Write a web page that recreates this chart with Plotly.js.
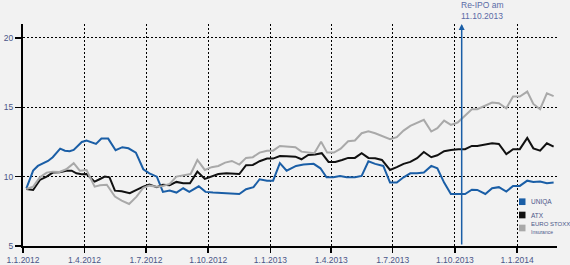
<!DOCTYPE html>
<html><head><meta charset="utf-8">
<script src="https://cdn.plot.ly/plotly-3.0.1.min.js"></script>
<style>html,body{margin:0;padding:0;background:#f2f2f2;}#chart{width:570px;height:265px;}</style>
</head><body><div id="chart"></div>
<script>
// day offsets from 1.1.2012 and values
const uniqaDays = [5,15,22,30,37,44,49,55,62,69,75,80,87,94,100,108,116,126,137,147,156,167,178,187,198,207,217,227,237,246,260,270,281,301,320,330,341,350,361,370,380,390,404,415,430,440,449,459,469,479,491,501,511,521,533,543,553,563,573,583,593,604,613,623,633,644,654,664,672,684,694,704,715,725,735,746,755,765,775,785];
const uniqaVals = [9.16,10.43,10.77,10.96,11.13,11.4,11.68,12.02,11.87,11.83,11.92,12.16,12.5,12.6,12.5,12.36,12.74,12.74,11.9,12.12,12.04,11.73,10.53,10.24,10.0,8.9,8.99,8.85,9.16,8.9,9.3,8.9,8.85,8.8,8.75,9.09,9.24,9.81,9.71,9.71,10.97,10.43,10.77,10.87,10.92,10.6,9.95,9.95,10.05,9.95,9.95,10.05,11.1,10.92,10.77,9.57,9.57,9.95,10.24,10.24,10.29,10.77,10.6,9.57,8.75,8.75,8.75,9.06,9.04,8.75,9.16,9.24,8.92,9.33,9.33,9.71,9.62,9.64,9.52,9.57];

const atxDays = [5,15,25,35,44,54,64,72,79,87,94,106,114,121,128,136,146,158,168,178,187,198,207,217,227,237,247,258,269,279,289,301,320,330,340,350,361,370,380,390,403,412,422,432,442,452,462,472,481,491,501,511,521,531,543,553,563,573,583,593,604,613,623,633,644,654,664,672,684,694,704,715,725,735,746,755,765,775,785];
const atxVals = [9.11,9.04,9.76,10.0,10.29,10.31,10.43,10.43,10.24,10.17,10.19,9.64,9.83,10.0,9.95,8.99,8.94,8.8,9.04,9.28,9.42,9.24,9.42,9.38,9.62,9.52,9.52,10.36,9.84,10.0,10.19,10.24,10.19,10.82,10.84,11.11,11.3,11.3,11.49,11.47,11.44,11.25,11.56,11.59,11.69,11.06,11.06,11.2,11.35,11.35,11.69,11.35,11.33,11.2,10.48,10.68,10.92,11.06,11.33,11.78,11.4,11.54,11.83,11.92,11.98,11.98,12.21,12.21,12.29,12.4,12.36,11.62,11.98,11.98,12.79,12.04,11.87,12.4,12.16];

const stoxxDays = [5,15,25,35,44,54,64,75,84,94,106,114,124,136,146,157,168,178,187,198,207,217,227,238,248,258,269,279,289,299,309,320,330,340,350,361,370,380,390,403,412,422,431,441,450,460,470,481,491,501,511,521,531,536,543,553,563,573,583,593,604,613,623,633,643,652,664,672,684,694,704,715,725,735,746,755,765,775,785];
const stoxxVals = [9.11,9.28,9.95,10.29,10.36,10.34,10.53,10.97,10.43,10.48,9.28,9.38,9.42,8.56,8.27,8.03,8.56,9.2,9.35,9.28,9.33,9.47,10.0,10.12,10.19,11.2,10.48,10.68,10.77,11.01,11.13,10.87,11.35,11.4,11.73,11.87,11.87,12.21,12.16,12.12,11.8,11.73,11.69,12.52,11.73,11.73,12.02,12.55,12.6,13.13,13.27,13.13,12.93,12.84,12.7,12.84,13.32,13.66,13.85,14.09,13.25,13.49,14.04,13.73,13.9,14.33,14.86,14.86,15.1,15.34,15.29,14.93,15.77,15.77,16.13,15.24,14.86,16.0,15.8];

const tickDates = ['2012-01-01','2012-04-01','2012-07-01','2012-10-01','2013-01-01','2013-04-01','2013-07-01','2013-10-01','2014-01-01'];
const tickLabels = ['1.1.2012','1.4.2012','1.7.2012','1.10.2012','1.1.2013','1.4.2013','1.7.2013','1.10.2013','1.1.2014'];
const seriesNames = ['UNIQA','ATX','<span style="font-size:6px">EURO STOXX</span><br><span style="font-size:5px">Insurance</span>'];
const seriesColors = ['#1a5ea6','#111111','#a9a9a9'];
const ipoDate = '2013-10-11';
const ipoLabel = 'Re-IPO am<br>11.10.2013';

function toDate(d){
  const t = new Date(Date.UTC(2012,0,1) + d*86400000);
  return t.toISOString().slice(0,10);
}
const all = [[uniqaDays,uniqaVals],[atxDays,atxVals],[stoxxDays,stoxxVals]];
const traces = all.map((s,i)=>({x:s[0].map(toDate), y:s[1], mode:'lines', line:{color:seriesColors[i], width:2}, showlegend:false, hoverinfo:'skip'}));

const font = {family:'"Liberation Sans", Arial, sans-serif', size:8.5, color:'#4a5688'};
const legFont = {family:'"Liberation Sans", Arial, sans-serif', size:6.5, color:'#4a5688'};
const legY = [0.1995, 0.1396, 0.0811];
const shapes = [];
const annotations = [
  {x:ipoDate, y:21, xref:'x', yref:'y', ax:ipoDate, ay:5, axref:'x', ayref:'y', showarrow:true, arrowhead:2, arrowsize:0.8, arrowwidth:1.5, arrowcolor:'#1a5ea6', text:''},
  {x:ipoDate, y:1, xref:'x', yref:'paper', yshift:1, xshift:-3, xanchor:'left', yanchor:'bottom', align:'left', showarrow:false, text:ipoLabel, font:{family:'"Liberation Sans", Arial, sans-serif', size:8.5, color:'#5a6aa6'}}
];
seriesNames.forEach((n,i)=>{
  shapes.push({type:'rect', xref:'paper', yref:'paper', x0:0.9288, x1:0.941, y0:legY[i]-0.015, y1:legY[i]+0.015, fillcolor:seriesColors[i], line:{width:0}});
  annotations.push({x:0.9476, y:legY[i], xref:'paper', yref:'paper', xanchor:'left', yanchor:'middle', align:'left', showarrow:false, text:n, font:legFont});
});

const layout = {
  width:570, height:265,
  paper_bgcolor:'#f2f2f2', plot_bgcolor:'#f2f2f2',
  margin:{l:23, r:13, t:24, b:19},
  font:font,
  showlegend:false,
  xaxis:{type:'date', range:['2012-01-01','2014-03-01'], tickvals:tickDates, ticktext:tickLabels,
    showline:true, linecolor:'#000', linewidth:2, ticks:'outside', ticklen:5, tickcolor:'#000', tickwidth:1.5,
    showgrid:true, gridcolor:'#000', griddash:'2px,2px', gridwidth:1, zeroline:false, tickfont:font, fixedrange:true},
  yaxis:{range:[5,21], tickvals:[5,10,15,20], ticktext:['5','10','15','20'],
    showline:true, linecolor:'#000', linewidth:2, ticks:'outside', ticklen:6, tickcolor:'#000', tickwidth:1.5,
    showgrid:true, gridcolor:'#000', griddash:'2px,2px', gridwidth:1, zeroline:false, tickfont:font, fixedrange:true},
  shapes:shapes,
  annotations:annotations
};
Plotly.newPlot('chart', traces, layout, {displayModeBar:false, staticPlot:true});
</script></body></html>
